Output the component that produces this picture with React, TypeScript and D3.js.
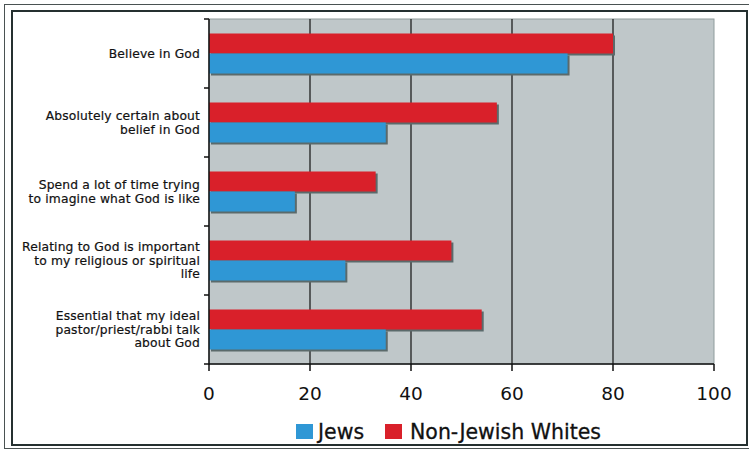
import React from "react";
import * as d3 from "d3";

const categories: string[][] = [
  ["Believe in God"],
  ["Absolutely certain about", "belief in God"],
  ["Spend a lot of time trying", "to imagine what God is like"],
  ["Relating to God is important", "to my religious or spiritual", "life"],
  ["Essential that my ideal", "pastor/priest/rabbi talk", "about God"],
];
const seriesNames = ["Non-Jewish Whites", "Jews"];
const nonJewishWhites = [80, 57, 33, 48, 54];
const jews = [71, 35, 17, 27, 35];
const xTicks = [0, 20, 40, 60, 80, 100];
const legendItems = ["Jews", "Non-Jewish Whites"];

const W = 749;
const H = 451;
const RED = "#d9202a";
const BLUE = "#2f97d5";
const SHADOW = "#5b6a6b";
const BG = "#bfc7c9";

export default function App() {
  const left = 209;
  const right = 714;
  const top = 19;
  const bottom = 364;
  const x = d3.scaleLinear().domain([0, 100]).range([left, right]);
  const y = d3
    .scaleBand<number>()
    .domain(categories.map((_, i) => i))
    .range([top, bottom]);
  const inner = d3
    .scaleBand<string>()
    .domain(seriesNames)
    .range([0, 40]);
  const bw = y.bandwidth();
  const offset = (bw - 40) / 2;
  const seriesVals = [nonJewishWhites, jews];
  const seriesColors = [RED, BLUE];
  const font = "'DejaVu Sans', Verdana, sans-serif";

  return (
    <svg
      width={W}
      height={H}
      style={{ position: "absolute", left: 0, top: 0, background: "#fff" }}
      fontFamily={font}
    >
      {/* frames */}
      <rect x={4.5} y={4.5} width={760} height={444} fill="none" stroke="#4a5252" strokeWidth={1} />
      <rect x={12} y={11} width={735} height={434} fill="#fff" stroke="#253030" strokeWidth={2} />

      {/* plot background */}
      <rect x={left} y={top} width={right - left} height={bottom - top} fill={BG} stroke="#8f9c9c" strokeWidth={1} />

      {/* gridlines */}
      {xTicks.filter((t) => t > 0 && t < 100).map((t) => (
        <line key={t} x1={x(t)} x2={x(t)} y1={top} y2={bottom} stroke="#111" strokeWidth={1.2} />
      ))}

      {/* bars */}
      {categories.map((_, i) =>
        seriesNames.map((s, si) => {
          const v = seriesVals[si][i];
          const by = (y(i) as number) + offset + (inner(s) as number);
          const h = inner.bandwidth();
          return (
            <g key={`${i}-${si}`}>
              <rect x={x(0) + 2} y={by + 2} width={x(v) - x(0)} height={h} fill={SHADOW} />
              <rect x={x(0)} y={by} width={x(v) - x(0)} height={h} fill={seriesColors[si]} />
            </g>
          );
        })
      )}

      {/* axes */}
      <line x1={left} x2={left} y1={top} y2={bottom + 0.5} stroke="#111" strokeWidth={1.5} />
      <line x1={left} x2={right} y1={bottom} y2={bottom} stroke="#111" strokeWidth={1.5} />
      {categories.map((_, i) => (
        <line key={i} x1={left - 5} x2={left} y1={y(i)} y2={y(i)} stroke="#111" strokeWidth={1.5} />
      ))}
      <line x1={left - 5} x2={left} y1={bottom} y2={bottom} stroke="#111" strokeWidth={1.5} />
      {xTicks.map((t) => (
        <g key={t}>
          <line x1={x(t)} x2={x(t)} y1={bottom} y2={bottom + 7} stroke="#111" strokeWidth={1.5} />
          <text x={x(t)} y={400} textAnchor="middle" fontSize={18.5} fill="#111">
            {t}
          </text>
        </g>
      ))}

      {/* category labels */}
      {categories.map((lines, i) => {
        const cy = (y(i) as number) + bw / 2;
        const lh = 13.5;
        const start = cy - ((lines.length - 1) * lh) / 2;
        return (
          <text key={i} textAnchor="end" fontSize={12.3} letterSpacing={0.15} fill="#111" stroke="#111" strokeWidth={0.2}>
            {lines.map((ln, j) => (
              <tspan key={j} x={200} y={start + j * lh} dy="0.35em">
                {ln}
              </tspan>
            ))}
          </text>
        );
      })}

      {/* legend */}
      <rect x={296} y={424} width={17} height={15} fill={BLUE} />
      <text x={318} y={438.5} fontSize={20.5} fill="#111" stroke="#111" strokeWidth={0.3}>{legendItems[0]}</text>
      <rect x={385} y={424} width={17} height={15} fill={RED} />
      <text x={410} y={438.5} fontSize={20.5} fill="#111" stroke="#111" strokeWidth={0.3}>{legendItems[1]}</text>
    </svg>
  );
}
